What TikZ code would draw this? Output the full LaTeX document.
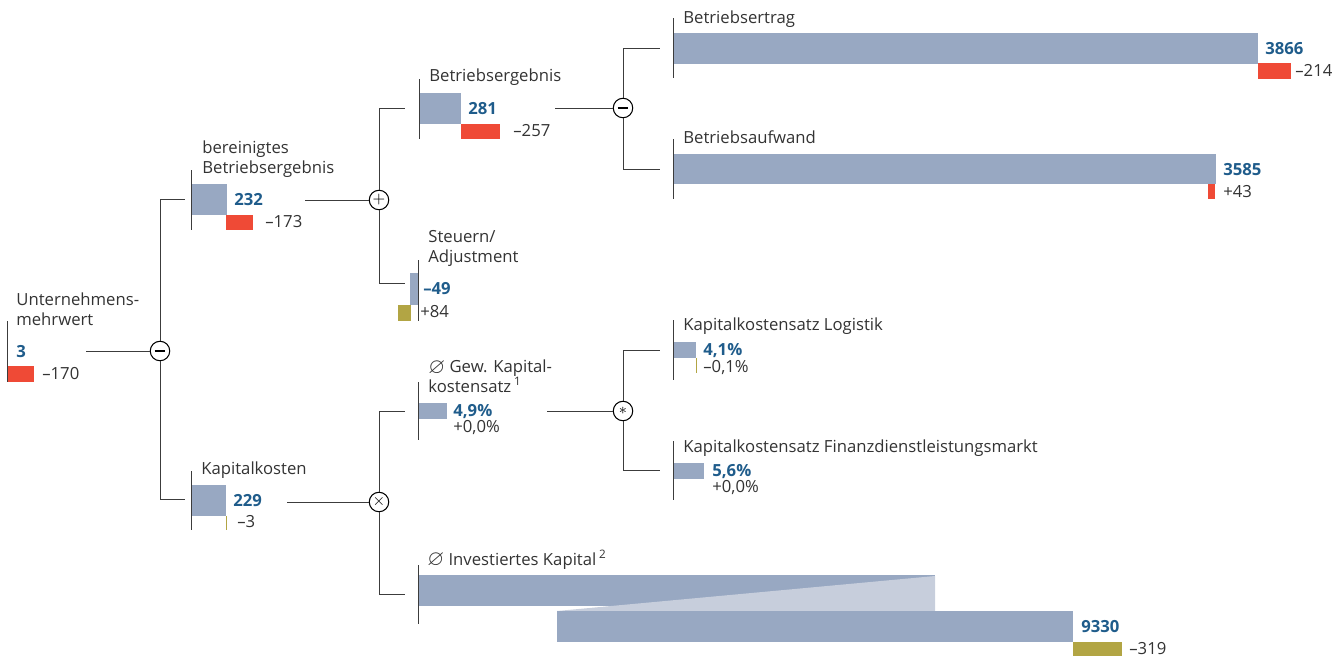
\documentclass[tikz,border=0pt]{standalone}
\usepackage{amssymb}
\usepackage{fontspec}
\setmainfont{Open Sans}
\newcommand{\chartfont}{\fontsize{9.5}{11.1}\selectfont}
\newcommand{\avg}{\raisebox{-0.3pt}{\scalebox{1.3}{$\varnothing$}}}
\definecolor{barblue}{RGB}{152,168,194}
\definecolor{barlight}{RGB}{199,206,220}
\definecolor{barred}{RGB}{239,74,54}
\definecolor{barolive}{RGB}{178,165,68}
\definecolor{valblue}{RGB}{31,92,139}
\definecolor{txtgray}{RGB}{51,51,51}
\definecolor{linegray}{RGB}{60,60,60}
\tikzset{
  lbl/.style={anchor=base west, inner sep=0pt, align=left, text=txtgray, font=\chartfont},
  val/.style={anchor=base west, inner sep=0pt, text=valblue, font=\chartfont\bfseries},
  dlt/.style={anchor=base west, inner sep=0pt, text=txtgray, font=\chartfont},
  op/.style={circle, draw=black, fill=white, minimum size=0.39cm, inner sep=0pt, line width=0.6pt, font=\chartfont},
  axis/.style={draw=linegray, line width=0.45pt},
  conn/.style={draw=linegray, line width=0.5pt}
}
\begin{document}
\begin{tikzpicture}[x=0.02cm, y=-0.02cm]
\useasboundingbox (0,0) rectangle (1341,656);

% operators
\node[op] (opA) at (160,351) {\rule[-0.65pt]{6pt}{1.3pt}};
\node[op] (opB) at (379,200) {$+$};
\node[op] (opC) at (379,502) {$\times$};
\node[op] (opD) at (623,108) {\rule[-0.65pt]{6pt}{1.3pt}};
\node[op] (opE) at (623,411) {$\ast$};

% Unternehmensmehrwert
\fill[barred] (7,366) rectangle (34,382);
\draw[axis] (7,321) -- (7,382);
\node[lbl] (umw) at (16,325) {Unternehmens-\\mehrwert};
\node[val] (umw v) at (16,357) {3};
\node[dlt] (umw d) at (42,379) {–170};
\coordinate (umw out) at (86,351);

% bereinigtes Betriebsergebnis
\fill[barblue] (191,184) rectangle (227,215);
\fill[barred] (226,215) rectangle (253,230);
\draw[axis] (191,170) -- (191,230);
\node[lbl] (ber) at (202,173) {bereinigtes\\Betriebsergebnis};
\node[val] (ber v) at (234,205) {232};
\node[dlt] (ber d) at (265,227) {–173};
\coordinate (ber in) at (185,199);
\coordinate (ber out) at (305,200);

% Kapitalkosten
\fill[barblue] (191,485) rectangle (226,516);
\draw[barolive] (226,516) -- (226,530);
\draw[axis] (191,471) -- (191,530);
\node[lbl] (kk) at (201,474) {Kapitalkosten};
\node[val] (kk v) at (233,506) {229};
\node[dlt] (kk d) at (237,527) {–3};
\coordinate (kk in) at (185,499);
\coordinate (kk out) at (287,502);

% Betriebsergebnis
\fill[barblue] (419,93) rectangle (461,124);
\fill[barred] (461,124) rectangle (500,139);
\draw[axis] (419,79) -- (419,139);
\node[lbl] (be) at (429,81) {Betriebsergebnis};
\node[val] (be v) at (468,114) {281};
\node[dlt] (be d) at (513,136) {–257};
\coordinate (be in) at (405,108);
\coordinate (be out) at (555,108);

% Steuern/Adjustment
\fill[barblue] (410,273) rectangle (418,305);
\fill[barolive] (398,305) rectangle (411,321);
\draw[axis] (418,260) -- (418,321);
\node[lbl] (st) at (428,262) {Steuern/\\Adjustment};
\node[val] (st v) at (423,294) {–49};
\node[dlt] (st d) at (420,317) {+84};
\coordinate (st in) at (405,283);

% Gew. Kapitalkostensatz
\fill[barblue] (418,403) rectangle (447,419);
\draw[axis] (418,382) -- (418,440);
\node[lbl] (gks) at (428,392) {\avg{} Gew. Kapital-\\kostensatz\,\textsuperscript{1}};
\node[val] (gks v) at (453,416) {4,9\%};
\node[dlt] (gks d) at (453,432) {+0,0\%};
\coordinate (gks in) at (405,411);
\coordinate (gks out) at (547,411);

% Investiertes Kapital
\fill[barblue] (418,575) rectangle (935,606);
\fill[barlight] (557,611) -- (935,576) -- (935,611) -- cycle;
\fill[barblue] (557,611) rectangle (1073,642);
\fill[barolive] (1073,642) rectangle (1122,656);
\draw[axis] (418,565) -- (418,624);
\node[lbl] (ik) at (427,565) {\avg{} Investiertes Kapital\,\textsuperscript{2}};
\node[val] (ik v) at (1081,632) {9330};
\node[dlt] (ik d) at (1129,654) {–319};
\coordinate (ik in) at (405,594);

% Betriebsertrag
\fill[barblue] (673,33) rectangle (1258,64);
\fill[barred] (1258,63) rectangle (1291,79);
\draw[axis] (673,18) -- (673,78);
\node[lbl] (bet) at (683,23) {Betriebsertrag};
\node[val] (bet v) at (1265,54) {3866};
\node[dlt] (bet d) at (1295,76) {–214};
\coordinate (bet in) at (660,48);

% Betriebsaufwand
\fill[barblue] (673,154) rectangle (1216,184);
\fill[barred] (1208,184) rectangle (1215,199);
\draw[axis] (673,139) -- (673,199);
\node[lbl] (bau) at (683,143) {Betriebsaufwand};
\node[val] (bau v) at (1223,175) {3585};
\node[dlt] (bau d) at (1223,197) {+43};
\coordinate (bau in) at (660,169);

% Kapitalkostensatz Logistik
\fill[barblue] (673,342) rectangle (696,358);
\draw[barolive] (696,358) -- (696,373);
\draw[axis] (673,320) -- (673,380);
\node[lbl] (ksl) at (683,330) {Kapitalkostensatz Logistik};
\node[val] (ksl v) at (703,355) {4,1\%};
\node[dlt] (ksl d) at (703,372) {–0,1\%};
\coordinate (ksl in) at (660,350);

% Kapitalkostensatz Finanzdienstleistungsmarkt
\fill[barblue] (673,463) rectangle (704,479);
\draw[axis] (673,441) -- (673,500);
\node[lbl] (ksf) at (683,452) {Kapitalkostensatz Finanzdienstleistungsmarkt};
\node[val] (ksf v) at (712,476) {5,6\%};
\node[dlt] (ksf d) at (712,492) {+0,0\%};
\coordinate (ksf in) at (660,470);

% connectors
\draw[conn] (umw out) -- (opA);
\draw[conn] (opA) |- (ber in);
\draw[conn] (opA) |- (kk in);
\draw[conn] (ber out) -- (opB);
\draw[conn] (opB) |- (be in);
\draw[conn] (opB) |- (st in);
\draw[conn] (kk out) -- (opC);
\draw[conn] (opC) |- (gks in);
\draw[conn] (opC) |- (ik in);
\draw[conn] (be out) -- (opD);
\draw[conn] (opD) |- (bet in);
\draw[conn] (opD) |- (bau in);
\draw[conn] (gks out) -- (opE);
\draw[conn] (opE) |- (ksl in);
\draw[conn] (opE) |- (ksf in);
\end{tikzpicture}
\end{document}
